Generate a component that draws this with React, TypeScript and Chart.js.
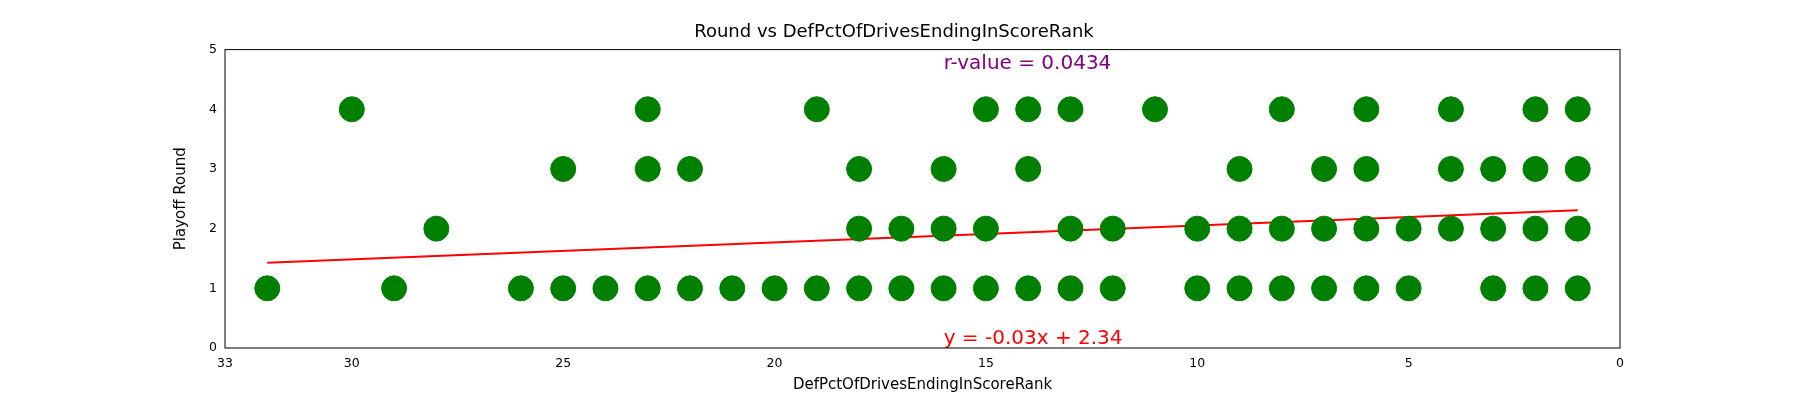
import React, { useEffect, useRef } from "react";
import { Chart, registerables } from "chart.js";
Chart.register(...registerables);

const y4 = [30, 23, 19, 15, 14, 13, 11, 8, 6, 4, 2, 1];
const y3 = [25, 23, 22, 18, 16, 14, 9, 7, 6, 4, 3, 2, 1];
const y2 = [28, 18, 17, 16, 15, 13, 12, 10, 9, 8, 7, 6, 5, 4, 3, 2, 1];
const y1 = [32, 29, 26, 25, 24, 23, 22, 21, 20, 19, 18, 17, 16, 15, 14, 13, 12, 10, 9, 8, 7, 6, 5, 3, 2, 1];
const fitLine = [{ x: 32, y: 1.43 }, { x: 1, y: 2.31 }];
const rText = "r-value = 0.0434";
const eqText = "y = -0.03x + 2.34";

const F = "'DejaVu Sans', sans-serif";

export default function App() {
  const ref = useRef<HTMLCanvasElement>(null);
  useEffect(() => {
    const pts = [
      ...y4.map((x) => ({ x, y: 4 })),
      ...y3.map((x) => ({ x, y: 3 })),
      ...y2.map((x) => ({ x, y: 2 })),
      ...y1.map((x) => ({ x, y: 1 })),
    ];
    const textPlugin = {
      id: "txt",
      afterDatasetsDraw(c: any) {
        const ctx = c.ctx;
        const xs = c.scales.x, ys = c.scales.y;
        ctx.save();
        ctx.font = `20px ${F}`;
        ctx.textBaseline = "alphabetic";
        ctx.textAlign = "left";
        ctx.fillStyle = "purple";
        ctx.fillText(rText, xs.getPixelForValue(16), ys.getPixelForValue(4.67));
        ctx.fillStyle = "red";
        ctx.fillText(eqText, xs.getPixelForValue(16), ys.getPixelForValue(0.06));
        const a = c.chartArea;
        ctx.strokeStyle = "#000";
        ctx.lineWidth = 1;
        ctx.strokeRect(a.left, a.top, a.right - a.left, a.bottom - a.top);
        ctx.restore();
      },
    };
    const chart = new Chart(ref.current!, {
      type: "scatter",
      data: {
        datasets: [
          { data: pts, backgroundColor: "green", borderColor: "green", pointRadius: 12.5, pointHoverRadius: 12.5 },
          { type: "line", data: fitLine, borderColor: "red", borderWidth: 2, pointRadius: 0, fill: false } as any,
        ],
      },
      options: {
        animation: false,
        responsive: false,
        layout: { padding: { left: 168, right: 180, top: 0, bottom: 2 } },
        plugins: {
          legend: { display: false },
          tooltip: { enabled: false },
          title: { display: true, text: "Round vs DefPctOfDrivesEndingInScoreRank", color: "#000", font: { family: F, size: 18, weight: "normal" }, padding: { top: 22, bottom: 6 } },
        },
        scales: {
          x: {
            type: "linear", reverse: true, min: 0, max: 33,
            ticks: { stepSize: 5, color: "#000", font: { family: F, size: 12.5 } },
            grid: { display: false, drawTicks: true, tickLength: 5, tickColor: "#000" } as any,
            border: { display: false },
            title: { display: true, text: "DefPctOfDrivesEndingInScoreRank", color: "#000", font: { family: F, size: 15 }, padding: { top: 2 } },
          },
          y: {
            min: 0, max: 5,
            ticks: { stepSize: 1, color: "#000", font: { family: F, size: 12.5 } },
            grid: { display: false, drawTicks: true, tickLength: 5, tickColor: "#000" } as any,
            border: { display: false },
            title: { display: true, text: "Playoff Round", color: "#000", font: { family: F, size: 15 } },
            afterFit: (s: any) => { s.width = 57; },
          },
        },
      },
      plugins: [textPlugin],
    });
    return () => chart.destroy();
  }, []);
  return (
    <div style={{ position: "absolute", left: 0, top: 0, width: 1800, height: 400, background: "#fff" }}>
      <canvas ref={ref} width={1800} height={400} />
    </div>
  );
}
